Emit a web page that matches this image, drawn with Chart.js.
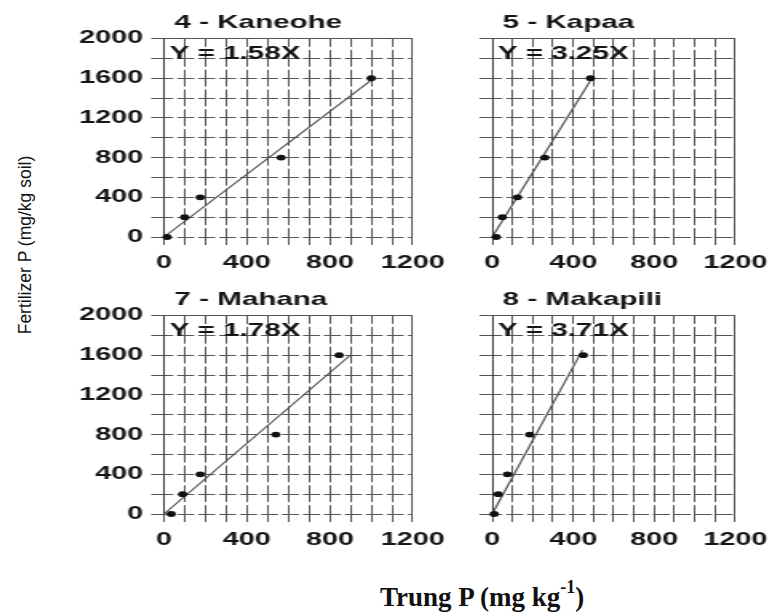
<!DOCTYPE html>
<html>
<head>
<meta charset="utf-8">
<script src="https://cdn.jsdelivr.net/npm/chart.js@4.4.1/dist/chart.umd.min.js"></script>
<style>
  html, body { margin: 0; padding: 0; background: #fff; width: 775px; height: 615px; overflow: hidden; }
  .panel { position: absolute; transform: scaleX(1.6); transform-origin: 0 0; }
  .panel canvas { display: block; }
  #yTitle {
    position: absolute; left: 25px; top: 245px;
    transform: translate(-50%, -50%) rotate(-90deg);
    white-space: nowrap; font: 17.5px "Liberation Sans", Arial, sans-serif; color: #111;
  }
  #xTitle {
    position: absolute; left: 380px; top: 582px; line-height: 27px;
    white-space: nowrap; font: bold 27px "Liberation Serif", "Times New Roman", serif; color: #111;
  }
  #xTitle .sup { position: relative; top: -13px; font-size: 18px; }
</style>
</head>
<body>
<div class="panel" style="left:40px; top:0px"><canvas id="c0" width="260" height="273"></canvas></div>
<div class="panel" style="left:472.5px; top:0px"><canvas id="c1" width="191" height="273"></canvas></div>
<div class="panel" style="left:40px; top:277px"><canvas id="c2" width="260" height="273"></canvas></div>
<div class="panel" style="left:472.5px; top:277px"><canvas id="c3" width="191" height="273"></canvas></div>
<div id="yTitle">Fertilizer P (mg/kg soil)</div>
<div id="xTitle">Trung P (mg kg<span class="sup">-1</span>)</div>

<script>
// Site names and fitted slopes (Y = slope * X)
const siteTitles = ['4 - Kaneohe', '5 - Kapaa', '7 - Mahana', '8 - Makapili'];
const slopes = [1.58, 3.25, 1.78, 3.71];
// x value where each fitted line stops
const lineEndX = [1000, 490, 900, 445];

// Fertilizer P added (mg/kg soil), same rates at every site
const fertilizerP = [0, 200, 400, 800, 1600];

// Trung P extracted at each rate (mg/kg)
const kaneoheP = [15, 100, 175, 565, 1000];
const kapaaP = [20, 50, 125, 260, 485];
const mahanaP = [35, 90, 175, 540, 845];
const makapiliP = [10, 30, 75, 185, 450];
const siteP = [kaneoheP, kapaaP, mahanaP, makapiliP];

// Axis grids and labelled ticks
const xGrid = [0, 100, 200, 300, 400, 500, 600, 700, 800, 900, 1000, 1100, 1200];
const xTickLabels = [0, 400, 800, 1200];
const yGrid = [0, 200, 400, 600, 800, 1000, 1200, 1400, 1600, 1800, 2000];
const yTickLabels = [0, 400, 800, 1200, 1600, 2000];

const FONT = '"Liberation Sans", Arial, Helvetica, sans-serif';
const TEXT = '#161616';
const GRID = '#555';

// Broken grid lines: solid through each crossing, a short gap mid-cell
const vDash = [16.8, 3];      // vertical lines, cell height ~19.8 px
const vDashOffset = 8.4;
const hDash = [10.6, 2.5];    // horizontal lines, cell width ~13.1 px
const hDashOffset = 5.3;

// Draws the site name above the plot and the regression equation inside it
const panelText = {
  id: 'panelText',
  afterDatasetsDraw(chart, args, opts) {
    const { ctx, chartArea } = chart;
    ctx.save();
    ctx.fillStyle = TEXT;
    ctx.font = 'bold 18.5px ' + FONT;
    ctx.textAlign = 'left';
    ctx.textBaseline = 'alphabetic';
    ctx.fillText(opts.title, chartArea.left + 6.5, chartArea.top - 10.2);
    ctx.fillText(opts.equation, chartArea.left + 3.5, chartArea.top + 20);
    ctx.restore();
  }
};

function makePanel(i) {
  const isLeft = (i % 2 === 0);
  const pts = siteP[i].map((x, k) => ({ x: x, y: fertilizerP[k] }));
  const fit = [
    { x: 0, y: 0 },
    { x: lineEndX[i], y: slopes[i] * lineEndX[i] }
  ];
  const yAxisWidth = isLeft ? 77.5 : 12;

  new Chart(document.getElementById('c' + i), {
    type: 'scatter',
    data: {
      datasets: [
        {
          type: 'line', data: fit, borderColor: '#4a4a4a', borderWidth: 1.1,
          pointRadius: 0, fill: false, clip: false, order: 2
        },
        {
          data: pts, backgroundColor: '#111', borderColor: '#111', borderWidth: 0,
          pointRadius: 2.9, clip: false, order: 1
        }
      ]
    },
    options: {
      responsive: false,
      animation: false,
      devicePixelRatio: 1,
      layout: { padding: { top: 38.5, right: 22, left: 0, bottom: 0 } },
      plugins: {
        legend: { display: false },
        tooltip: { enabled: false },
        panelText: { title: siteTitles[i], equation: 'Y = ' + slopes[i].toFixed(2) + 'X' }
      },
      scales: {
        x: {
          type: 'linear', min: 0, max: 1200,
          afterBuildTicks: ax => { ax.ticks = xGrid.map(v => ({ value: v })); },
          afterFit: ax => { ax.height = 36; },
          ticks: {
            autoSkip: false, maxRotation: 0, padding: 7,
            callback: v => xTickLabels.includes(v) ? String(v) : '',
            font: { size: 18, family: FONT, weight: 'bold' }, color: TEXT
          },
          grid: { color: GRID, lineWidth: 1, tickLength: 8, drawTicks: true },
          border: {
            display: false,
            dash: c => (c.tick && c.tick.value === 1200) ? [] : vDash,
            dashOffset: vDashOffset
          }
        },
        y: {
          type: 'linear', min: 0, max: 2000,
          afterBuildTicks: ax => { ax.ticks = yGrid.map(v => ({ value: v })); },
          afterFit: ax => { ax.width = yAxisWidth; },
          ticks: {
            display: isLeft, autoSkip: false, padding: 5,
            callback: v => yTickLabels.includes(v) ? String(v) : '',
            font: { size: 18, family: FONT, weight: 'bold' }, color: TEXT
          },
          grid: { color: GRID, lineWidth: 1, tickLength: 8, drawTicks: true },
          border: {
            color: '#3c3c3c', width: 1,
            dash: c => (c.tick && c.tick.value === 2000) ? [] : hDash,
            dashOffset: hDashOffset
          }
        }
      }
    },
    plugins: [panelText]
  });
}

for (let i = 0; i < 4; i++) makePanel(i);
</script>
</body>
</html>
